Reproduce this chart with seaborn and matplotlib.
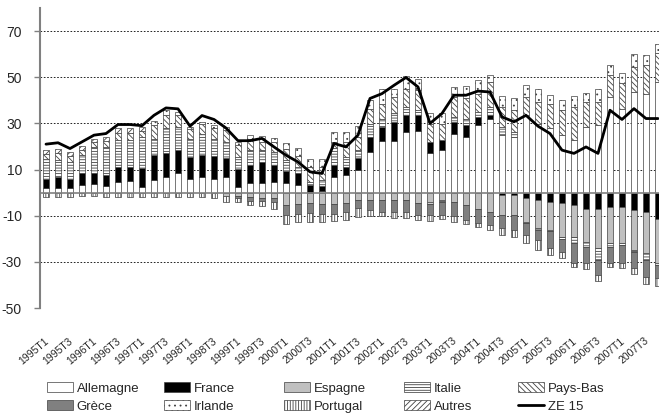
import numpy as np
import matplotlib.pyplot as plt
import matplotlib.transforms as mtransforms
import seaborn as sns
from matplotlib.patches import Patch
from matplotlib.lines import Line2D

sns.set_theme(style="white")
plt.rcParams["font.family"] = ["Liberation Sans", "DejaVu Sans"]
plt.rcParams["axes.unicode_minus"] = False
plt.rcParams["hatch.linewidth"] = 0.6

# Trimestres 1995T1 -> 2007T4
trimestres = [f"{a}T{t}" for a in range(1995, 2008) for t in range(1, 5)]

allemagne = [1.8, 1.8, 1.8, 3.2, 3.7, 2.8, 4.7, 5.1, 2.5, 5.4, 6.9, 8.3, 6.1, 6.9, 6.1, 6.9,
             2.5, 4.0, 4.0, 4.7, 4.0, 3.2, 0.3, 0.5, 6.9, 7.6, 9.7, 17.7, 22.4, 22.4, 26.3, 26.7,
             17.2, 18.4, 25.6, 24.2, 29.2, 32.1, 24.9, 24.2, 33.5, 29.9, 27.8, 24.9, 22.7, 28.5,
             29.2, 41.5, 36.4, 43.7, 42.9, 48.0]
france = [4.3, 5.1, 3.9, 5.1, 4.9, 4.8, 6.2, 6.1, 8.0, 10.8, 10.1, 10.1, 9.4, 9.3, 9.6, 7.9,
          7.9, 7.9, 9.3, 7.2, 5.5, 5.1, 2.8, 2.5, 5.0, 3.6, 5.1, 6.5, 6.1, 8.3, 7.2, 6.8,
          4.8, 4.3, 5.0, 5.0, 3.6, 1.4, -1.1, -1.1, -2.5, -3.2, -4.0, -4.7, -5.4, -6.9,
          -6.9, -6.1, -6.1, -7.6, -8.3, -11.3]
espagne = [0, 0, 0, 0, 0, 0, 0, 0, 0, 0, 0, 0, 0, 0, 0, -1.5,
           -1.5, -2.0, -2.2, -2.5, -5.4, -4.8, -4.7, -4.8, -4.8, -4.7, -3.2, -3.2, -3.2, -3.2, -3.2, -4.7,
           -4.0, -3.2, -4.0, -5.4, -6.9, -8.3, -8.6, -8.6, -10.1, -12.3, -12.2, -14.4, -13.7, -14.4,
           -17.3, -15.9, -15.9, -17.3, -18.0, -19.4]
italie = [8.3, 7.2, 7.6, 7.9, 11.0, 12.0, 12.1, 11.5, 13.7, 7.2, 10.8, 10.1, 7.9, 9.2, 7.7, 7.2,
          5.0, 6.5, 5.1, 5.8, 4.5, 2.9, 1.5, 2.5, 7.6, 4.3, 3.6, 5.7, 3.6, 3.6, 3.7, 2.2,
          -0.8, -0.8, 2.2, 2.9, 2.2, 3.7, 3.6, 2.1, -0.5, -0.5, -0.5, -1.0, -2.9, -2.1,
          -5.0, -1.4, -0.5, -1.0, -2.9, -0.5]
pays_bas = [2.4, 3.0, 2.5, 2.3, 2.3, 2.6, 2.9, 3.1, 2.6, 5.8, 5.7, 5.0, 4.3, 4.3, 4.5, 5.0,
            5.3, 5.0, 3.6, 4.3, 5.0, 4.8, 6.5, 5.5, 2.5, 6.5, 5.8, 6.5, 6.5, 7.2, 7.9, 8.7,
            7.9, 7.2, 8.7, 8.7, 7.9, 10.8, 8.7, 9.4, 8.0, 9.4, 10.8, 10.8, 14.5, 10.8,
            10.1, 9.4, 10.9, 10.8, 12.3, 12.3]
grece = [0, 0, 0, 0, 0, 0, 0, 0, 0, 0, 0, 0, 0, 0, 0, 0,
         -1.0, -1.5, -1.5, -1.5, -4.3, -4.3, -4.3, -4.3, -4.3, -3.6, -3.6, -4.4, -5.0, -5.0, -5.0, -5.0,
         -5.0, -5.8, -6.0, -6.5, -6.4, -5.8, -5.8, -6.5, -5.1, -4.7, -7.2, -5.5, -8.7, -7.3,
         -6.5, -7.3, -8.0, -6.9, -7.2, -5.7]
irlande = [0, 0, 0, 0, 0, 0, 0, 0, 0, 1.7, 2.2, 1.5, 0.8, 1.0, 1.3, 1.5,
           1.3, 1.5, 2.5, 1.8, 2.3, 3.2, 3.4, 3.5, 4.3, 4.3, 4.6, 3.9, 6.1, 3.6, 5.3, 5.0,
           4.7, 4.7, 4.3, 5.3, 6.1, 2.9, 4.6, 5.1, 5.0, 5.4, 3.6, 4.3, 4.6, 3.9,
           5.4, 4.3, 4.6, 5.5, 4.3, 4.0]
portugal = [-1.8, -1.8, -1.8, -1.5, -1.5, -1.8, -1.8, -1.8, -1.8, -1.8, -1.8, -1.8, -1.8, -1.8, -2.2, -2.5,
            -1.5, -1.9, -2.1, -2.9, -3.9, -3.5, -3.6, -3.5, -3.1, -3.6, -3.7, -2.6, -2.0, -3.0, -3.0, -2.2,
            -2.5, -1.8, -2.6, -1.7, -1.7, -2.1, -2.9, -2.9, -3.6, -4.0, -3.3, -2.9, -1.7, -2.6,
            -2.5, -1.7, -2.1, -2.5, -3.2, -3.6]
autres = [1.6, 2.0, 1.6, 1.6, 1.5, 1.7, 1.9, 2.0, 1.7, 0, 0, 0, 0, 0, 0, 0,
          0, 0, 0, 0, 0, 0, 0, 0, 0, 0, 0, 0, 0, 0, 0, 0,
          0, 0, 0, 0, 0, 0, 0, 0, 0, 0, 0, 0, 0, 0,
          0, 0, 0, 0, 0, 0]
ze15 = [21.0, 21.6, 19.1, 22.0, 24.9, 25.6, 29.5, 29.5, 29.0, 33.5, 36.7, 36.3, 28.8, 33.4, 31.7, 28.0,
        22.5, 22.5, 23.5, 19.8, 16.2, 13.3, 9.0, 8.3, 21.3, 19.8, 24.9, 40.8, 42.9, 46.5, 49.9, 45.8,
        30.0, 34.3, 42.2, 42.2, 44.0, 43.6, 32.8, 30.7, 33.5, 28.8, 25.6, 18.4, 17.0, 19.8,
        17.0, 35.7, 31.7, 36.4, 32.1, 32.1]

# nom, valeurs, couleur, hachure
pays = [
    ("Allemagne", allemagne, "white", ""),
    ("France", france, "black", ""),
    ("Espagne", espagne, "#c0c0c0", ""),
    ("Italie", italie, "white", "------"),
    ("Pays-Bas", pays_bas, "white", "\\\\\\\\\\\\"),
    ("Grèce", grece, "#808080", ""),
    ("Irlande", irlande, "white", "..."),
    ("Portugal", portugal, "white", "||||||"),
    ("Autres", autres, "white", "//////"),
]

x = np.arange(len(trimestres))

fig = plt.figure(figsize=(6.59, 4.13), dpi=100)
ax = fig.add_axes([40 / 659, 1 - 308 / 413, 619 / 659, 300 / 413])

haut = np.zeros(len(x))
bas = np.zeros(len(x))
for nom, vals, couleur, hachure in pays:
    v = np.array(vals, dtype=float)
    base = np.where(v >= 0, haut, bas)
    m = v != 0
    ax.bar(x[m], v[m], width=0.42, bottom=base[m], color=couleur, hatch=hachure,
           edgecolor="#404040", linewidth=0.5, zorder=2)
    haut += np.clip(v, 0, None)
    bas += np.clip(v, None, 0)

sns.lineplot(x=x, y=ze15, ax=ax, color="black", linewidth=2, zorder=4)

# Grille et axes
ax.set_ylim(-50, 80)
ax.set_xlim(-0.5, -0.5 + 619 / 12)
ax.set_yticks([70, 50, 30, 10, -10, -30, -50])
ax.yaxis.grid(True, color="black", linestyle=(0, (2, 2)), linewidth=0.6, zorder=0)
ax.set_axisbelow(True)
ax.axhline(0, color="#808080", linewidth=1.2, zorder=3)

for s in ["top", "right", "bottom"]:
    ax.spines[s].set_visible(False)
ax.spines["left"].set_color("#808080")
ax.spines["left"].set_linewidth(1.5)
ax.tick_params(axis="y", length=4, color="#808080", width=1, labelsize=10, pad=9, left=True)
ax.tick_params(axis="x", length=0, labelsize=7.5, pad=20)

ax.set_xticks(x[::2])
ax.set_xticklabels(trimestres[::2], rotation=40, ha="right", rotation_mode="anchor")
decalage = mtransforms.ScaledTranslation(-2 / 100, 0, fig.dpi_scale_trans)
for lab in ax.get_xticklabels():
    lab.set_transform(lab.get_transform() + decalage)

# Légende en colonnes
colonnes = [
    [("Allemagne", "white", ""), ("Grèce", "#808080", "")],
    [("France", "black", ""), ("Irlande", "white", "...")],
    [("Espagne", "#c0c0c0", ""), ("Portugal", "white", "||||||")],
    [("Italie", "white", "------"), ("Autres", "white", "//////")],
    [("Pays-Bas", "white", "\\\\\\\\\\\\"), None],
]
xcol = [47, 164, 284, 404, 518]
for xc, col in zip(xcol, colonnes):
    handles = []
    for item in col:
        if item is None:
            handles.append(Line2D([0], [0], color="black", linewidth=2, label="ZE 15"))
        else:
            nom, couleur, hachure = item
            handles.append(Patch(facecolor=couleur, hatch=hachure, edgecolor="#404040",
                                 linewidth=0.5, label=nom))
    fig.legend(handles=handles, loc="center left", bbox_to_anchor=(xc / 659, 1 - 397.5 / 413),
               frameon=False, fontsize=9.5, handlelength=2.0, handleheight=0.7,
               handletextpad=0.25, labelspacing=0.42, borderpad=0, borderaxespad=0)

plt.savefig("out.png", dpi=100)
